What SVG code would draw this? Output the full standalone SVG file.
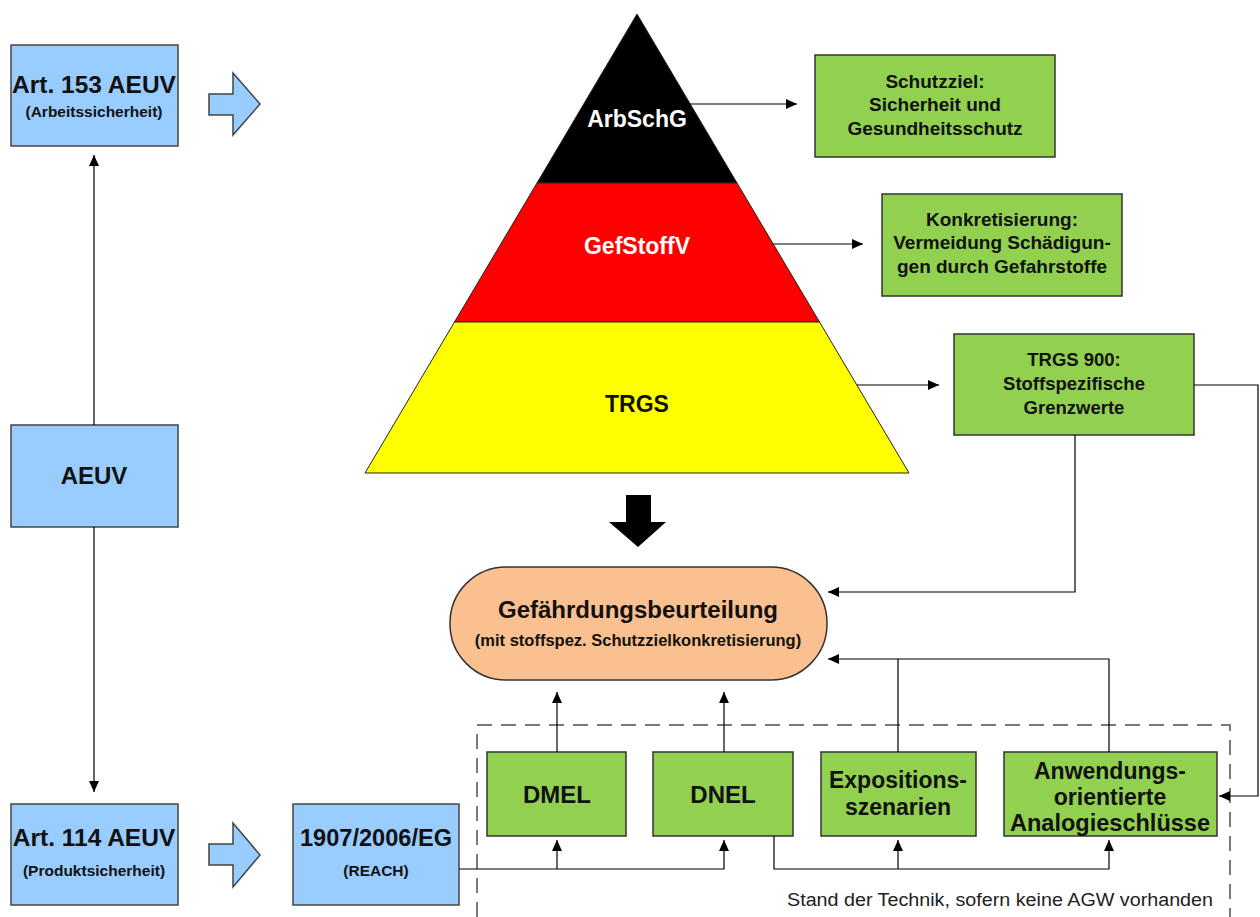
<svg xmlns="http://www.w3.org/2000/svg" width="1260" height="917" viewBox="0 0 1260 917">
<style>
.blue{fill:#99CCFF;stroke:#444;stroke-width:1.5}
.green{fill:#92D050;stroke:#333;stroke-width:1.5}
.t{font-family:"Liberation Sans",Arial,sans-serif;font-weight:bold;fill:#111;text-anchor:middle}
.w{fill:#fff}
.c{fill:none;stroke:#000;stroke-width:1.2}
</style>
<defs>
<marker id="ah" markerUnits="userSpaceOnUse" markerWidth="12" markerHeight="10" refX="11" refY="5" orient="auto">
<path d="M0,0 L11,5 L0,10 z" fill="#000"/>
</marker>
</defs>
<rect width="1260" height="917" fill="#fff"/>

<g id="pyramid">
<polygon points="637,14 737,183 537,183" fill="#000" stroke="#222" stroke-width="1"/>
<polygon points="537,183 737,183 819.5,322 454.5,322" fill="#FF0000" stroke="#222" stroke-width="1"/>
<polygon points="454.5,322 819.5,322 909,473 365,473" fill="#FFFF00" stroke="#222" stroke-width="1"/>
<text class="t w" x="637" y="127" font-size="23">ArbSchG</text>
<text class="t w" x="637" y="254" font-size="23">GefStoffV</text>
<text class="t" x="637" y="412" font-size="23">TRGS</text>
</g>

<g id="art153">
<rect class="blue" x="11" y="45" width="167" height="101"/>
<text class="t" x="94" y="93" font-size="24.5">Art. 153 AEUV</text>
<text class="t" x="94" y="117" font-size="15.5">(Arbeitssicherheit)</text>
</g>
<g id="arrow153">
<polygon class="blue" points="209,94 233,94 233,73 260,104 233,135 233,115 209,115"/>
</g>
<g id="aeuv">
<rect class="blue" x="11" y="425" width="167" height="102"/>
<text class="t" x="94" y="484" font-size="24">AEUV</text>
</g>
<g id="art114">
<rect class="blue" x="11" y="804" width="167" height="101"/>
<text class="t" x="94" y="846" font-size="24.5">Art. 114 AEUV</text>
<text class="t" x="94" y="876" font-size="15.5">(Produktsicherheit)</text>
</g>
<g id="arrow114">
<polygon class="blue" points="209,844 233,844 233,823 260,855 233,887 233,865 209,865"/>
</g>
<g id="reach">
<rect class="blue" x="293" y="804" width="166" height="101"/>
<text class="t" x="376" y="846" font-size="24" textLength="152" lengthAdjust="spacingAndGlyphs">1907/2006/EG</text>
<text class="t" x="376" y="876" font-size="15.5">(REACH)</text>
</g>

<g id="schutzziel">
<rect class="green" x="815" y="55" width="240" height="102"/>
<text class="t" x="935" y="88" font-size="19">Schutzziel:</text>
<text class="t" x="935" y="111" font-size="19">Sicherheit und</text>
<text class="t" x="935" y="135" font-size="19">Gesundheitsschutz</text>
</g>
<g id="konkretisierung">
<rect class="green" x="882" y="194" width="240" height="102"/>
<text class="t" x="1002" y="226" font-size="19">Konkretisierung:</text>
<text class="t" x="1002" y="249" font-size="19">Vermeidung Schädigun-</text>
<text class="t" x="1002" y="273" font-size="19">gen durch Gefahrstoffe</text>
</g>
<g id="trgs900">
<rect class="green" x="954" y="334" width="240" height="101"/>
<text class="t" x="1074" y="366" font-size="18.5">TRGS 900:</text>
<text class="t" x="1074" y="390" font-size="18.5">Stoffspezifische</text>
<text class="t" x="1074" y="414" font-size="18.5">Grenzwerte</text>
</g>

<g id="bigarrow">
<polygon points="626,495 651,495 651,522 666,522 638,547 609,522 626,522" fill="#000"/>
</g>

<g id="gefaehrdung">
<rect x="450" y="567" width="377" height="113" rx="56" ry="56" fill="#FAC08F" stroke="#333" stroke-width="1.5"/>
<text class="t" x="638" y="618" font-size="24">Gefährdungsbeurteilung</text>
<text class="t" x="638" y="646" font-size="16.5">(mit stoffspez. Schutzzielkonkretisierung)</text>
</g>

<g id="stand">
<path d="M477,917 V725 H1230 V917" fill="none" stroke="#7a7a7a" stroke-width="2" stroke-dasharray="15 9"/>
<text x="1000" y="906" font-family="'Liberation Sans',Arial,sans-serif" font-size="18" fill="#222" text-anchor="middle" textLength="426" lengthAdjust="spacingAndGlyphs">Stand der Technik, sofern keine AGW vorhanden</text>
</g>

<g id="dmel">
<rect class="green" x="487" y="752" width="139" height="84"/>
<text class="t" x="557" y="803" font-size="24">DMEL</text>
</g>
<g id="dnel">
<rect class="green" x="653" y="752" width="140" height="84"/>
<text class="t" x="723" y="803" font-size="24">DNEL</text>
</g>
<g id="expositionen">
<rect class="green" x="821" y="752" width="155" height="84"/>
<text class="t" x="898" y="788" font-size="23">Expositions-</text>
<text class="t" x="898" y="815" font-size="23">szenarien</text>
</g>
<g id="anwendung">
<rect class="green" x="1004" y="752" width="213" height="84"/>
<text class="t" x="1110" y="779" font-size="23">Anwendungs-</text>
<text class="t" x="1110" y="805" font-size="23">orientierte</text>
<text class="t" x="1110" y="831" font-size="23" textLength="200" lengthAdjust="spacingAndGlyphs">Analogieschlüsse</text>
</g>

<g id="connectors">
<path class="c" d="M690,104 H797" marker-end="url(#ah)"/>
<path class="c" d="M773,244 H863" marker-end="url(#ah)"/>
<path class="c" d="M857,385 H939" marker-end="url(#ah)"/>
<path class="c" d="M1194,385 H1258 V796 H1219" marker-end="url(#ah)"/>
<path class="c" d="M1075,435 V592 H828" marker-end="url(#ah)"/>
<path class="c" d="M898,752 V659 H828" marker-end="url(#ah)"/>
<path class="c" d="M1109,752 V659 H898"/>
<path class="c" d="M557,752 V692" marker-end="url(#ah)"/>
<path class="c" d="M724,752 V692" marker-end="url(#ah)"/>
<path class="c" d="M94,425 V155" marker-end="url(#ah)"/>
<path class="c" d="M94,527 V792" marker-end="url(#ah)"/>
<path class="c" d="M459,869 H724 V840" marker-end="url(#ah)"/>
<path class="c" d="M557,869 V840" marker-end="url(#ah)"/>
<path class="c" d="M774,836 V869 H1109 V840" marker-end="url(#ah)"/>
<path class="c" d="M898,869 V840" marker-end="url(#ah)"/>
</g>
</svg>
